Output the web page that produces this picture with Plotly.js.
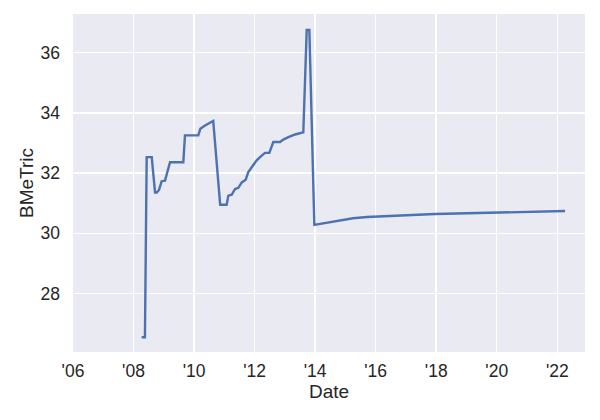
<!DOCTYPE html>
<html>
<head>
<meta charset="utf-8">
<script src="https://cdn.plot.ly/plotly-3.0.1.min.js"></script>
<style>html,body{margin:0;padding:0;background:#fff;}#chart{width:600px;height:420px;}</style>
</head>
<body>
<div id="chart"></div>
<script>
const dates = [
  "2008-04-08","2008-05-18","2008-06-08","2008-08-08","2008-09-17","2008-10-07",
  "2008-11-04","2008-12-06","2009-01-15","2009-03-17","2009-08-24","2009-09-13",
  "2010-02-21","2010-03-17","2010-05-13","2010-08-20","2010-11-12","2011-01-29",
  "2011-02-18","2011-03-31","2011-05-10","2011-06-19","2011-07-30","2011-09-16",
  "2011-10-17","2011-11-27","2012-01-26","2012-03-27","2012-05-06","2012-06-27",
  "2012-08-14","2012-11-03","2012-12-13","2013-02-12","2013-05-04","2013-08-11",
  "2013-09-21","2013-10-23","2013-12-22","2015-04-03","2015-09-19","2017-12-18",
  "2022-04-05"
];
const bmetric = [
  26.55, 26.55, 32.53, 32.53, 31.35, 31.35,
  31.44, 31.73, 31.75, 32.36, 32.36, 33.25,
  33.25, 33.47, 33.58, 33.73, 30.95, 30.95,
  31.25, 31.28, 31.47, 31.51, 31.69, 31.78,
  32.03, 32.19, 32.42, 32.58, 32.67, 32.67,
  33.03, 33.03, 33.11, 33.19, 33.28, 33.35,
  36.75, 36.75, 30.28, 30.50, 30.54, 30.64,
  30.74
];
const xTickVals = ["2006-01-01","2008-01-01","2010-01-01","2012-01-01","2014-01-01","2016-01-01","2018-01-01","2020-01-01","2022-01-01"];
const xTickText = ["'06","'08","'10","'12","'14","'16","'18","'20","'22"];
const yTickVals = [28, 30, 32, 34, 36];

const trace = {
  x: dates, y: bmetric, type: "scatter", mode: "lines",
  line: {color: "#4C72B0", width: 2.4}, hoverinfo: "skip"
};
const layout = {
  width: 600, height: 420,
  margin: {l: 73, r: 15, t: 14, b: 68, pad: 0},
  paper_bgcolor: "#ffffff", plot_bgcolor: "#EAEAF2",
  font: {family: "Liberation Sans, Arial, sans-serif", color: "#262626", size: 17.5},
  showlegend: false,
  xaxis: {
    type: "date", range: ["2006-01-01", "2022-12-01"],
    tickvals: xTickVals, ticktext: xTickText,
    showgrid: true, gridcolor: "#ffffff", gridwidth: 1.5,
    zeroline: false, showline: false, ticks: "",
    ticklabelstandoff: 6,
    tickfont: {size: 17.5, color: "#262626"},
    title: {text: "Date", font: {size: 19, color: "#262626"}, standoff: 5},
    automargin: false
  },
  yaxis: {
    range: [26.06, 37.28],
    tickvals: yTickVals,
    showgrid: true, gridcolor: "#ffffff", gridwidth: 1.5,
    zeroline: false, showline: false, ticks: "",
    ticklabelstandoff: 12,
    tickfont: {size: 17.5, color: "#262626"},
    title: {text: "BMeTric", font: {size: 19, color: "#262626"}, standoff: 1},
    automargin: false
  }
};
Plotly.newPlot("chart", [trace], layout, {displayModeBar: false, staticPlot: true});
</script>
</body>
</html>
